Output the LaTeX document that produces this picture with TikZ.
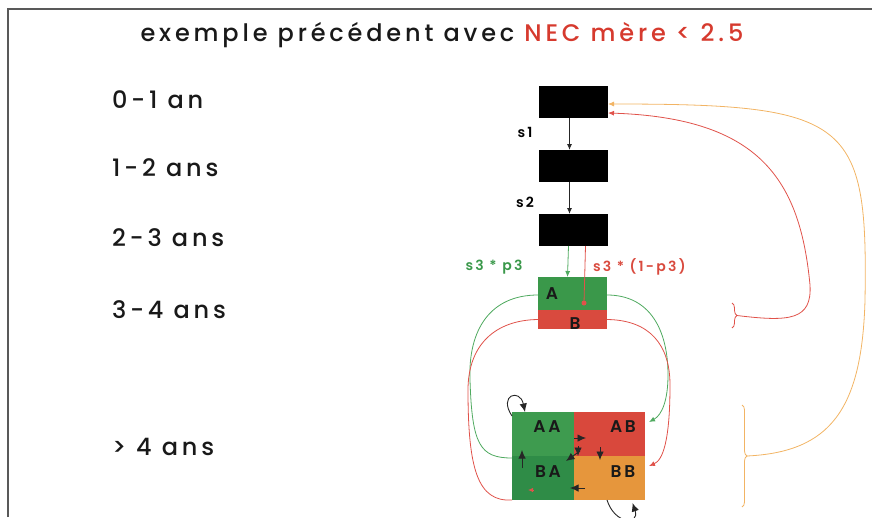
\documentclass[tikz,border=0pt]{standalone}
\usepackage{fontspec}
\setmainfont{Poppins}[UprightFont=* Medium, BoldFont=* SemiBold, LetterSpace=16]
\usepackage{tikz}
\usetikzlibrary{arrows.meta}
\usetikzlibrary{calc}
\usetikzlibrary{decorations.pathreplacing}
\usepackage{xcolor}
\definecolor{titrerouge}{RGB}{214,58,46}
\definecolor{vertA}{RGB}{58,152,74}
\definecolor{rougeB}{RGB}{217,74,62}
\definecolor{vertAA}{RGB}{62,155,79}
\definecolor{vertBA}{RGB}{47,140,71}
\definecolor{rougeAB}{RGB}{217,72,60}
\definecolor{orangeBB}{RGB}{230,150,60}
\definecolor{traitvert}{RGB}{80,170,96}
\definecolor{traitrouge}{RGB}{224,82,74}
\definecolor{traitorange}{RGB}{242,180,100}

\begin{document}
\begin{tikzpicture}[x=1pt, y=-1pt,
    every node/.style={inner sep=0pt, outer sep=0pt},
    boite/.style={rectangle, fill=black, minimum width=69pt, minimum height=32pt},
    case/.style={rectangle, minimum height=44pt},
    txt/.style={font=\fontsize{24}{28}\selectfont, text=black!90},
    lettre/.style={font=\fontsize{17}{19}\selectfont\bfseries, text=black!90},
    petit/.style={font=\fontsize{14}{16}\selectfont\bfseries},
    fl/.style={-{Latex[length=6pt,width=5pt]}},
    gfl/.style={-{Latex[length=8.5pt,width=7.5pt]}},
    noir/.style={line width=0.9pt, black!85},
    vligne/.style={line width=0.8pt, traitvert},
    rligne/.style={line width=0.8pt, traitrouge},
    oligne/.style={line width=0.8pt, traitorange}
  ]
  \useasboundingbox (0,0) rectangle (872,517);
  \draw[line width=1.5pt, black!65] (8,517) -- (8,9) -- (872,9);

  \node (titre) [txt] at (442,35) {exemple précédent avec \textcolor{titrerouge}{NEC mère < 2.5}};

  % classes d'age
  \foreach \t/\y [count=\k] in {0-1 an/100, 1-2 ans/168, 2-3 ans/238, 3-4 ans/310, > 4 ans/447}
    \node (age\k) [txt, anchor=west] at (112,\y) {\t};

  % juveniles
  \foreach \i/\y in {1/102, 2/166, 3/230}
    \node (J\i) [boite] at (573.5,\y) {};
  \foreach \i/\j in {1/2, 2/3}
    \draw[noir, fl] ([xshift=-4pt]J\i.south) -- ([xshift=-4pt]J\j.north);
  \node (s1) [petit] at (525,132) {s1};
  \node (s2) [petit] at (525,202) {s2};

  % 3-4 ans
  \node (A) [fill=vertA, minimum width=69pt, minimum height=33pt] at (572.5,293.5) {};
  \node (B) [fill=rougeB, minimum width=69pt, minimum height=19pt] at (572.5,319.5) {};
  \node (tA) [lettre] at (552,294) {A};
  \node (tB) [lettre] at (575,324) {B};
  \coordinate (pointA) at (584,303);
  \draw[vligne, fl] ([xshift=-5pt]J3.south) -- ([xshift=-5pt]A.north);
  \draw[rligne] ([xshift=12pt]J3.south) -- (pointA);
  \fill[traitrouge] (pointA) circle (2.5pt);
  \node (p3) [petit, text=vertA] at (494,267) {s3 * p3};
  \node (q3) [petit, text=rougeB, anchor=west] at (593,267) {s3 * (1-p3)};

  % adultes
  \node (AA) [case, fill=vertAA, minimum width=62pt] at (543,434) {};
  \node (AB) [case, fill=rougeAB, minimum width=71pt] at (609.5,434) {};
  \node (BA) [case, fill=vertBA, minimum width=62pt] at (543,478) {};
  \node (BB) [case, fill=orangeBB, minimum width=71pt] at (609.5,478) {};
  \foreach \n/\x/\y in {AA/547/427, AB/623/427, BA/548/472, BB/623/472}
    \node (t\n) [lettre] at (\x,\y) {\n};

  % passages A/B vers les adultes
  \draw[vligne] ([yshift=-1.5pt]A.west) .. controls (490,295) and (468,330) .. (470,380)
    .. controls (472,445) and (480,458) .. ([yshift=-2pt]BA.north west);
  \draw[rligne] (B.west) .. controls (495,320) and (468,345) .. (468,390)
    .. controls (468,470) and (478,502) .. (BA.south west);
  \draw[vligne, fl] ([yshift=-1.5pt]A.east) .. controls (650,295) and (668,330) .. (668,375)
    .. controls (668,400) and (662,415) .. ([xshift=4pt,yshift=12pt]AB.east);
  \draw[rligne, fl] (B.east) .. controls (650,320) and (670,345) .. (670,385)
    .. controls (670,440) and (663,460) .. ([xshift=4pt,yshift=12pt]BB.east);
  \draw[rligne, -{Latex[length=5pt,width=4.5pt]}] ([xshift=22pt,yshift=10pt]BA.south west) -- ++(-6,0);

  % transitions entre adultes
  \draw[noir, gfl] ([yshift=-4pt]AA.north west) .. controls (498,395) and (520,388) .. ([xshift=13pt]AA.north west);
  \draw[noir, gfl] ([xshift=-2.5pt]BB.south) .. controls (615,525) and (640,525) .. ([xshift=23pt,yshift=-3pt]BB.south);
  \draw[noir, gfl] ([yshift=-4pt]AA.east) -- ++(12,0);
  \draw[noir, gfl] ([xshift=4pt,yshift=10pt]AB.south west) -- ++(0,10);
  \draw[noir, gfl] ([xshift=6pt,yshift=5pt]AB.south west) -- ++(-14,10);
  \draw[noir, gfl] ([xshift=-9.5pt,yshift=9pt]AB.south) -- ++(0,13);
  \draw[noir, gfl] ([xshift=10pt,yshift=10pt]BA.west) -- ++(0,-18);
  \draw[noir, gfl] ([xshift=11pt,yshift=-10pt]BB.west) -- ++(-15,0);

  % reproduction
  \coordinate (bB1) at (732,303);
  \coordinate (bB2) at (732,328);
  \coordinate (pointeB) at (737,315.5);
  \coordinate (bAd1) at (742,405);
  \coordinate (bAd2) at (742,507);
  \coordinate (pointeAd) at (747,456);
  \draw[rligne, decorate, decoration={brace, amplitude=5pt}] (bB1) -- (bB2);
  \draw[oligne, decorate, decoration={brace, amplitude=5pt}] (bAd1) -- (bAd2);
  \draw[oligne, fl] (pointeAd) .. controls (830,452) and (862,410) .. (865,300)
    .. controls (868,120) and (850,104) .. ([yshift=-2pt]J1.east);
  \draw[rligne, fl] (pointeB) .. controls (790,322) and (812,320) .. (810,285)
    .. controls (800,180) and (760,118) .. ([yshift=-11pt]J1.east);
\end{tikzpicture}
\end{document}
